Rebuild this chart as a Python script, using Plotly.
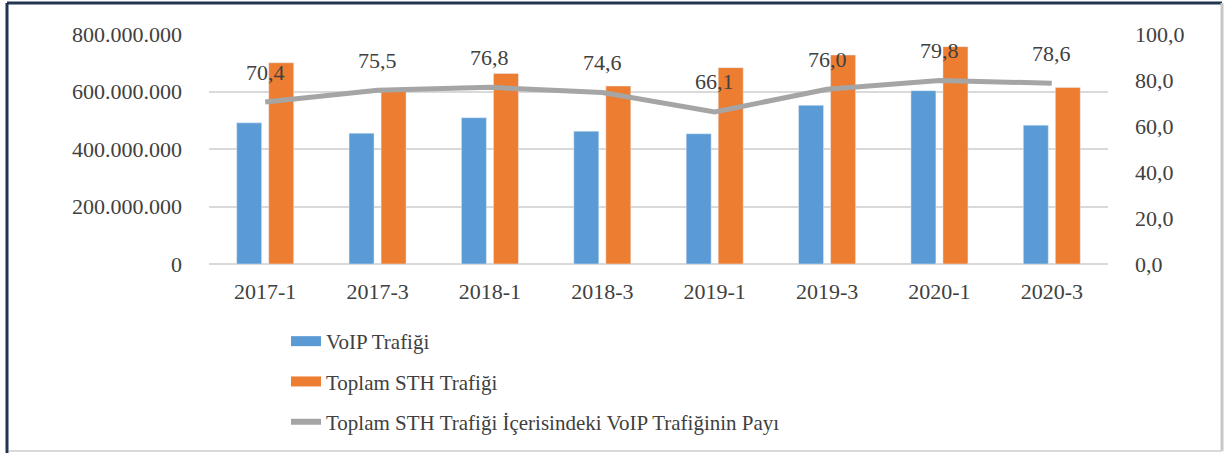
import plotly.graph_objects as go

categories = ["2017-1", "2017-3", "2018-1", "2018-3", "2019-1", "2019-3", "2020-1", "2020-3"]
voip = [491_000_000, 455_000_000, 509_000_000, 462_000_000, 453_000_000, 552_000_000, 603_000_000, 483_000_000]
toplam = [700_000_000, 605_000_000, 663_000_000, 619_000_000, 683_000_000, 727_000_000, 756_000_000, 614_000_000]
pay = [70.4, 75.5, 76.8, 74.6, 66.1, 76.0, 79.8, 78.6]

name_voip = "VoIP Trafiği"
name_toplam = "Toplam STH Trafiği"
name_pay = "Toplam STH Trafiği İçerisindeki VoIP Trafiğinin Payı"

BLUE = "#5B9BD5"
ORANGE = "#ED7D31"
GRAY = "#A5A5A5"
FONT = "Liberation Serif"

W, H = 1226, 453
L, R, T, B = 209, 118, 34, 189
PW, PH = W - L - R, H - T - B


def px(xp):
    return (xp - L) / PW


def py(yp):
    return (H - B - yp) / PH


fig = go.Figure()
fig.add_trace(go.Bar(x=categories, y=voip, name=name_voip, marker_color=BLUE,
                     showlegend=False))
fig.add_trace(go.Bar(x=categories, y=toplam, name=name_toplam, marker_color=ORANGE,
                     showlegend=False))
fig.add_trace(go.Scatter(x=categories, y=pay, name=name_pay, mode="lines",
                         line=dict(color=GRAY, width=5), yaxis="y2", showlegend=False))

# legend entries
fig.add_trace(go.Scatter(x=[None], y=[None], mode="lines", name=name_voip,
                         line=dict(color=BLUE, width=10), legendgroup="a"))
fig.add_trace(go.Scatter(x=[None], y=[None], mode="lines", name=name_toplam,
                         line=dict(color=ORANGE, width=10), legendgroup="b"))
fig.add_trace(go.Scatter(x=[None], y=[None], mode="lines", name=name_pay,
                         line=dict(color=GRAY, width=6), legendgroup="c", yaxis="y2"))

for c, v in zip(categories, pay):
    fig.add_annotation(x=c, y=v, yref="y2", text=f"{v:.1f}".replace(".", ","),
                       showarrow=False, yshift=30,
                       font=dict(family=FONT, size=22, color="#404040"))

shapes = [
    dict(type="line", xref="paper", yref="paper", x0=px(7), x1=px(1222), y0=py(3), y1=py(3),
         line=dict(color="#1F3550", width=3)),
    dict(type="line", xref="paper", yref="paper", x0=px(7), x1=px(7), y0=py(3), y1=py(453),
         line=dict(color="#1F3550", width=3)),
    dict(type="line", xref="paper", yref="paper", x0=px(1222), x1=px(1222), y0=py(3), y1=py(451),
         line=dict(color="#C8C8C8", width=3)),
    dict(type="line", xref="paper", yref="paper", x0=px(9), x1=px(1222), y0=py(451), y1=py(451),
         line=dict(color="#D9D9D9", width=2)),
]

fig.update_layout(
    width=W, height=H,
    margin=dict(l=L, r=R, t=T, b=B, autoexpand=False),
    paper_bgcolor="white", plot_bgcolor="white",
    separators=",.",
    barmode="group", bargap=0.43, bargroupgap=0.22,
    font=dict(family=FONT, size=21, color="#404040"),
    shapes=shapes,
    xaxis=dict(type="category", showgrid=False, showline=False, ticks="", ticklabelstandoff=12,
               tickfont=dict(family=FONT, size=22, color="#404040")),
    yaxis=dict(range=[0, 800_000_000], tickvals=[0, 200_000_000, 400_000_000, 600_000_000, 800_000_000],
               tickformat=",d", showgrid=True, gridcolor="#D9D9D9", gridwidth=2,
               zeroline=True, zerolinecolor="#D9D9D9", zerolinewidth=2,
               ticklabelstandoff=26,
               tickfont=dict(family=FONT, size=22, color="#404040")),
    yaxis2=dict(range=[0, 100], tickvals=[0, 20, 40, 60, 80, 100], tickformat=".1f",
                overlaying="y", side="right", showgrid=False, zeroline=False,
                ticklabelstandoff=26,
                tickfont=dict(family=FONT, size=22, color="#404040")),
    legend=dict(orientation="v", x=px(286), y=py(321), xanchor="left", yanchor="top",
                font=dict(family=FONT, size=21, color="#404040"),
                tracegroupgap=10, bgcolor="rgba(0,0,0,0)"),
)

fig.write_html("out.html")
